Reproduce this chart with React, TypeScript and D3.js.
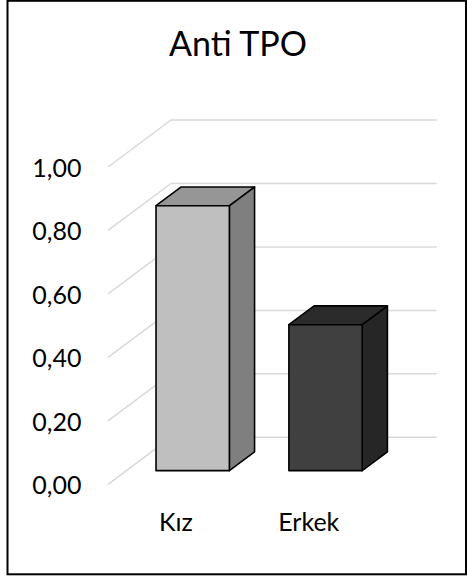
import React from "react";
import * as d3 from "d3";

// Chart data
const categories = ["Kız", "Erkek"];
const values = [0.835, 0.46];
const yTicks = [0, 0.2, 0.4, 0.6, 0.8, 1.0];
const title = "Anti TPO";

const faceColors = ["#BFBFBF", "#404040"];
const sideColors = ["#7F7F7F", "#262626"];
const topColors = ["#969696", "#2B2B2B"];

const W = 467;
const H = 581;

// Oblique projection of the floor: front edge and depth offset
const floorX0 = 108;
const floorX1 = 373.7;
const depthDX = 63;
const depthDY = -47;
const barD0 = 0.29;
const barD1 = 0.69;
const barWidthFrac = 0.552;

const fmt = (v: number) => d3.format(".2f")(v).replace(".", ",");

export default function App() {
  const x = d3.scaleBand<string>().domain(categories).range([floorX0, floorX1]).padding(0);
  const y = d3.scaleLinear().domain([0, 1]).range([484.3, 167]);

  const P = (xf: number, v: number, d: number): [number, number] => [
    xf + d * depthDX,
    y(v) + d * depthDY,
  ];
  const line = d3.line();

  const step = x.bandwidth();
  const bw = step * barWidthFrac;

  return (
    <svg
      width={W}
      height={H}
      style={{ position: "fixed", left: 0, top: 0, background: "#fff" }}
      fontFamily="Lato, 'Open Sans', sans-serif"
    >
      <rect x={0} y={0} width={W} height={H} fill="#fff" />
      {/* gridlines: side wall diagonal plus back wall horizontal */}
      {yTicks.map((t) => (
        <path
          key={"g" + t}
          d={line([P(floorX0, t, 0), P(floorX0, t, 1), P(floorX1, t, 1)]) || ""}
          fill="none"
          stroke="#D9D9D9"
          strokeWidth={1.5}
        />
      ))}
      {/* y tick labels */}
      {yTicks.map((t) => (
        <text key={"l" + t} x={81.5} y={y(t) + 10} textAnchor="end" fontSize={25} fill="#000">
          {fmt(t)}
        </text>
      ))}
      {/* 3D columns */}
      {categories.map((c, i) => {
        const xf0 = (x(c) as number) + (step - bw) / 2;
        const xf1 = xf0 + bw;
        const v = values[i];
        const f00 = P(xf0, 0, barD0);
        const f10 = P(xf1, 0, barD0);
        const f11 = P(xf1, v, barD0);
        const f01 = P(xf0, v, barD0);
        const b10 = P(xf1, 0, barD1);
        const b11 = P(xf1, v, barD1);
        const b01 = P(xf0, v, barD1);
        const stroke = { stroke: "#000", strokeWidth: 1.6, strokeLinejoin: "round" as const };
        return (
          <g key={c}>
            <path d={line([f10, b10, b11, f11])! + "Z"} fill={sideColors[i]} {...stroke} />
            <path d={line([f01, f11, b11, b01])! + "Z"} fill={topColors[i]} {...stroke} />
            <path d={line([f00, f10, f11, f01])! + "Z"} fill={faceColors[i]} {...stroke} />
          </g>
        );
      })}
      {/* category labels */}
      {categories.map((c) => (
        <text
          key={"c" + c}
          x={(x(c) as number) + step / 2 + 1.5}
          y={531}
          textAnchor="middle"
          fontSize={25}
          fill="#000"
        >
          {c}
        </text>
      ))}
      <text x={238} y={56} textAnchor="middle" fontSize={34} fill="#000">
        {title}
      </text>
      {/* outer frame */}
      <rect x={7.5} y={0.8} width={458.5} height={573.5} fill="none" stroke="#000" strokeWidth={2} />
    </svg>
  );
}
